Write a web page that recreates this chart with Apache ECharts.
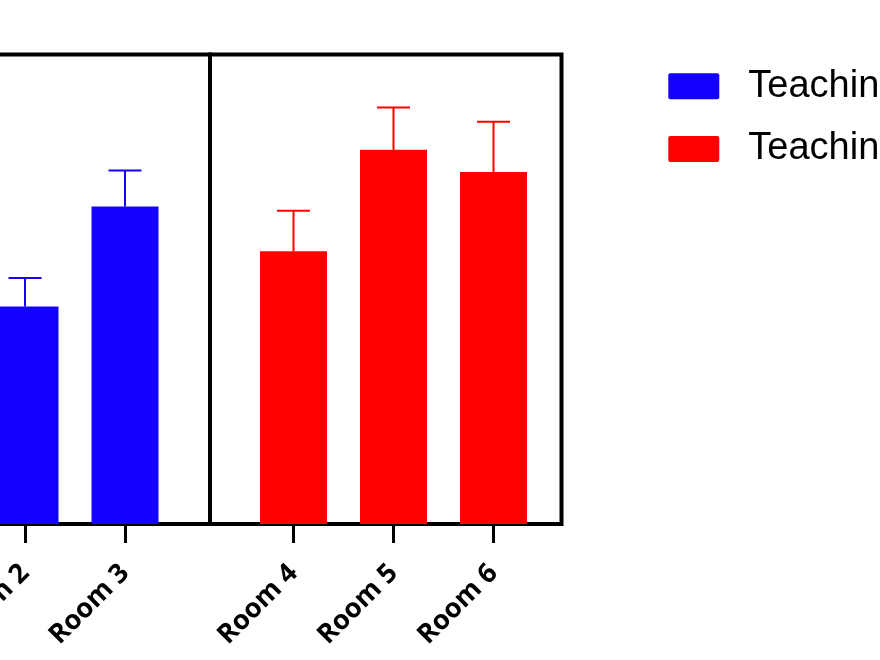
<!DOCTYPE html>
<html>
<head>
<meta charset="utf-8">
<script src="https://cdn.jsdelivr.net/npm/echarts@6/dist/echarts.min.js"></script>
<style>
html,body{margin:0;padding:0;width:880px;height:660px;overflow:hidden;background:#fff;}
#c{position:absolute;left:-300px;top:0;width:1500px;height:660px;}
</style>
</head>
<body>
<div id="c"></div>
<script>
// ---- data ----
const groupA = ['Room 1', 'Room 2', 'Room 3'];
const groupB = ['Room 4', 'Room 5', 'Room 6'];
const meanA = [55.0, 46.3, 67.6];   // Room 1 is outside the visible crop (estimate)
const sdA   = [7.0, 6.1, 7.7];
const meanB = [58.1, 79.7, 75.0];
const sdB   = [8.6, 9.0, 10.7];
const seriesNames = ['Teaching method 1', 'Teaching method 2'];
const yMin = 0, yMax = 100;

// ---- styling ----
const BLUE = '#1400ff', RED = '#ff0000';
const OFF = 300; // container offset (page x = container x - OFF)
const TOP = 54.5, BOTTOM_Y = 524;

function errBars(color) {
  return function (params, api) {
    const base = api.coord([api.value(0), api.value(1)]);
    const top = api.coord([api.value(0), api.value(1) + api.value(2)]);
    const half = 16.5;
    return {
      type: 'group',
      children: [
        { type: 'line', shape: { x1: base[0], y1: base[1], x2: top[0], y2: top[1] },
          style: { stroke: color, lineWidth: 2 } },
        { type: 'line', shape: { x1: top[0] - half, y1: top[1], x2: top[0] + half, y2: top[1] },
          style: { stroke: color, lineWidth: 2 } }
      ]
    };
  };
}

const labelStyle = {
  rotate: 45, fontFamily: 'Open Sans', fontWeight: 'bold', fontSize: 27,
  color: '#000', margin: 45, interval: 0
};
const tickStyle = { show: true, alignWithLabel: true, length: 19, lineStyle: { color: '#000', width: 3 } };

const chart = echarts.init(document.getElementById('c'), null, { renderer: 'canvas' });
chart.setOption({
  animation: false,
  backgroundColor: '#fff',
  legend: {
    orient: 'vertical', left: 668.3 + OFF, top: 67.3, padding: 0,
    itemWidth: 51, itemHeight: 26, itemGap: 24.7,
    icon: 'path://M2,0H49Q51,0 51,2V24Q51,26 49,26H2Q0,26 0,24V2Q0,0 2,0Z',
    textStyle: { fontFamily: 'Liberation Sans', fontSize: 38, lineHeight: 38, color: '#000', padding: [0, 0, 0, 24] },
    data: seriesNames
  },
  grid: [
    // frames
    { left: -160 + OFF, width: 370, top: TOP, height: BOTTOM_Y - TOP, show: true, borderColor: '#000', borderWidth: 4, backgroundColor: 'transparent' },
    { left: 210 + OFF, width: 351.5, top: TOP, height: BOTTOM_Y - TOP, show: true, borderColor: '#000', borderWidth: 4, backgroundColor: 'transparent' },
    // data grids
    { left: -125 + OFF, width: 300, top: TOP, height: BOTTOM_Y - TOP },
    { left: 243.5 + OFF, width: 300, top: TOP, height: BOTTOM_Y - TOP }
  ],
  xAxis: [
    { gridIndex: 0, type: 'value', show: false },
    { gridIndex: 1, type: 'value', show: false },
    { gridIndex: 2, type: 'category', data: groupA, axisLine: { show: false }, axisTick: tickStyle, axisLabel: labelStyle },
    { gridIndex: 3, type: 'category', data: groupB, axisLine: { show: false }, axisTick: tickStyle, axisLabel: labelStyle }
  ],
  yAxis: [
    { gridIndex: 0, type: 'value', show: false },
    { gridIndex: 1, type: 'value', show: false },
    { gridIndex: 2, type: 'value', min: yMin, max: yMax, offset: 35, axisLine: { show: false }, splitLine: { show: false },
      axisLabel: { color: '#000', fontSize: 20 } },
    { gridIndex: 3, type: 'value', min: yMin, max: yMax, show: false, splitLine: { show: false } }
  ],
  series: [
    { name: seriesNames[0], type: 'bar', xAxisIndex: 2, yAxisIndex: 2, data: meanA, barWidth: 67,
      itemStyle: { color: BLUE } },
    { name: seriesNames[1], type: 'bar', xAxisIndex: 3, yAxisIndex: 3, data: meanB, barWidth: 67,
      itemStyle: { color: RED } },
    { type: 'custom', xAxisIndex: 2, yAxisIndex: 2, renderItem: errBars(BLUE), z: 1,
      data: meanA.map((m, i) => [i, m, sdA[i]]), encode: { x: 0, y: 1 } },
    { type: 'custom', xAxisIndex: 3, yAxisIndex: 3, renderItem: errBars(RED), z: 1,
      data: meanB.map((m, i) => [i, m, sdB[i]]), encode: { x: 0, y: 1 } }
  ]
});
</script>
</body>
</html>
